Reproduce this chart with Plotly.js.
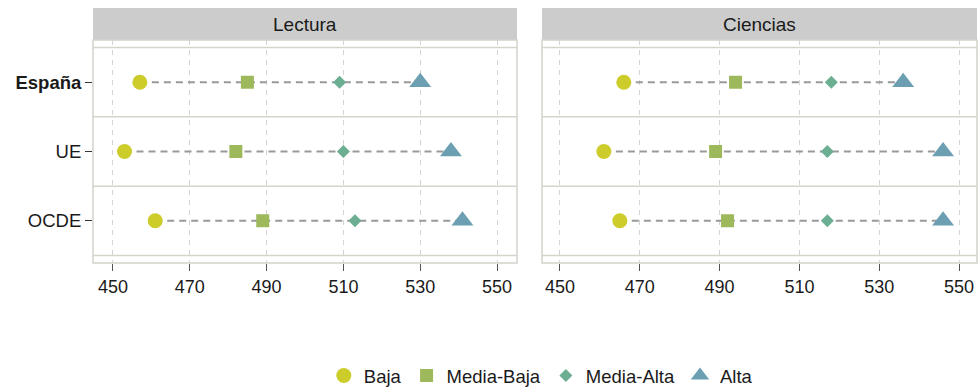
<!DOCTYPE html>
<html>
<head>
<meta charset="utf-8">
<script src="https://cdn.plot.ly/plotly-3.0.1.min.js"></script>
<style>html,body{margin:0;padding:0;background:#fff;}#chart{width:978px;height:387px;}</style>
</head>
<body>
<div id="chart"></div>
<script>
// ---- Data ----
const countries = ["España", "UE", "OCDE"];
const countryLabels = ["<b>España</b>", "UE", "OCDE"];
const levels = ["Baja", "Media-Baja", "Media-Alta", "Alta"];
const panels = ["Lectura", "Ciencias"];
// values per level, in country order [España, UE, OCDE]
const lecturaBaja = [457, 453, 461];
const lecturaMediaBaja = [485, 482, 489];
const lecturaMediaAlta = [509, 510, 513];
const lecturaAlta = [530, 538, 541];
const cienciasBaja = [466, 461, 465];
const cienciasMediaBaja = [494, 489, 492];
const cienciasMediaAlta = [518, 517, 517];
const cienciasAlta = [536, 546, 546];
const xTicks = [450, 470, 490, 510, 530, 550];

// ---- Styles ----
const colors = ["#CCCC2A", "#9DB95B", "#6BAE91", "#6B9FB1"];
const symbols = ["circle", "square", "diamond", "triangle-up"];
const sizes = [15, 13, 10, 19];
const FONT = "'Liberation Sans', Arial, sans-serif";
const BORDER = "#D4D4CB";

const panelData = [
  [lecturaBaja, lecturaMediaBaja, lecturaMediaAlta, lecturaAlta],
  [cienciasBaja, cienciasMediaBaja, cienciasMediaAlta, cienciasAlta]
];
const yPos = countries.map((c, i) => i + 1);

const traces = [];
panelData.forEach((series, p) => {
  const xa = p === 0 ? "x" : "x2";
  countries.forEach((c, ci) => {
    const xs = series.map(s => s[ci]);
    traces.push({
      x: xs, y: xs.map(() => yPos[ci]), xaxis: xa, yaxis: "y",
      mode: "lines", line: {color: "#999999", width: 2, dash: "7px,5px"},
      showlegend: false, hoverinfo: "skip"
    });
  });
});
panelData.forEach((series, p) => {
  const xa = p === 0 ? "x" : "x2";
  series.forEach((vals, li) => {
    traces.push({
      x: vals, y: yPos, xaxis: xa, yaxis: "y",
      mode: "markers", name: levels[li], legendgroup: levels[li],
      showlegend: p === 0,
      marker: {symbol: symbols[li], size: sizes[li], color: colors[li], line: {width: 0}}
    });
  });
});

const H = 387;
const yBot = 1 - 263 / H, yTop = 1 - 40 / H, stripTop = 1 - 8 / H;
const xDomains = [[93 / 978, 517 / 978], [542 / 978, 977 / 978]];

const shapes = [];
const annotations = [];
["x", "x2"].forEach((xa, p) => {
  shapes.push({type: "rect", xref: xa + " domain", yref: "paper", x0: 0, x1: 1, y0: yTop, y1: stripTop,
    fillcolor: "#CCCCCC", line: {width: 0}, layer: "below"});
  shapes.push({type: "rect", xref: xa + " domain", yref: "paper", x0: 0, x1: 1, y0: yBot, y1: yTop,
    fillcolor: "rgba(0,0,0,0)", line: {color: BORDER, width: 1.5}, layer: "below"});
  [0.5, 1.5, 2.5, 3.5].forEach(v => {
    shapes.push({type: "line", xref: xa + " domain", yref: "y", x0: 0, x1: 1, y0: v, y1: v,
      line: {color: BORDER, width: 1.5}, layer: "below"});
  });
  annotations.push({xref: xa + " domain", yref: "paper", x: 0.5, y: (yTop + stripTop) / 2,
    text: panels[p], showarrow: false, font: {family: FONT, size: 19, color: "#1A1A1A"},
    xanchor: "center", yanchor: "middle"});
});

const xaxisBase = {
  tickvals: xTicks, ticktext: xTicks.map(String), ticks: "outside", ticklen: 7, tickwidth: 1,
  tickcolor: "#555555", tickfont: {family: FONT, size: 18, color: "#1A1A1A"},
  showgrid: true, gridcolor: "#D3D3D3", gridwidth: 1, griddash: "5px,5px",
  zeroline: false, showline: false, anchor: "y", automargin: false, fixedrange: true
};

const layout = {
  width: 978, height: 387,
  margin: {l: 0, r: 0, t: 0, b: 0},
  paper_bgcolor: "#FFFFFF", plot_bgcolor: "#FFFFFF",
  font: {family: FONT, size: 18, color: "#1A1A1A"},
  xaxis: Object.assign({}, xaxisBase, {domain: xDomains[0], range: [444.8, 555.2]}),
  xaxis2: Object.assign({}, xaxisBase, {domain: xDomains[1], range: [445.5, 554.5]}),
  yaxis: {
    domain: [yBot, yTop], range: [3.61, 0.39], tickvals: yPos, ticktext: countryLabels,
    ticks: "outside", ticklen: 7, tickwidth: 1, tickcolor: "#333333",
    tickfont: {family: FONT, size: 18.5, color: "#1A1A1A"},
    showgrid: false, zeroline: false, showline: false, anchor: "x", automargin: false, fixedrange: true
  },
  showlegend: true,
  legend: {orientation: "h", x: 0.553, xanchor: "center", y: 0, yanchor: "bottom",
    font: {family: FONT, size: 18.5, color: "#1A1A1A"}, bgcolor: "rgba(0,0,0,0)",
    itemwidth: 30, tracegroupgap: 0},
  shapes: shapes,
  annotations: annotations
};

Plotly.newPlot("chart", traces, layout, {displayModeBar: false, staticPlot: true}).then(() => {
  // nudge the legend group down so its row sits where the reference legend row is
  const leg = document.querySelector("g.legend");
  if (leg) {
    const t = leg.getAttribute("transform") || "";
    const m = t.match(/translate\(([-\d.]+)[ ,]+([-\d.]+)\)/);
    if (m) leg.setAttribute("transform", "translate(" + m[1] + "," + (parseFloat(m[2]) + 8) + ")");
  }
});
</script>
</body>
</html>
